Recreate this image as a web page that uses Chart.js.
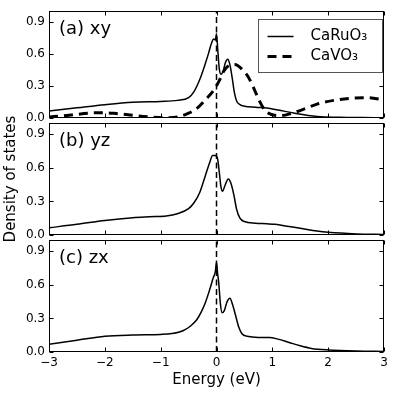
<!DOCTYPE html>
<html>
<head>
<meta charset="utf-8">
<script src="https://cdn.jsdelivr.net/npm/chart.js@4.4.1/dist/chart.umd.min.js"></script>
<style>
  body { margin:0; background:#fff; }
  #wrap { position:relative; width:394px; height:395px; }
  #wrap canvas { position:absolute; left:0; top:0; }
</style>
</head>
<body>
<div id="wrap">
  <canvas id="chartA" width="394" height="395"></canvas>
  <canvas id="chartB" width="394" height="395"></canvas>
  <canvas id="chartC" width="394" height="395"></canvas>
</div>
<script>
const xTicks = [-3, -2, -1, 0, 1, 2, 3];
const yTicks = [0.0, 0.3, 0.6, 0.9];
const panelLabels = ['(a) xy', '(b) yz', '(c) zx'];
const seriesNames = ['CaRuO₃', 'CaVO₃'];

// (a) xy
const ruXyE = [-3, -2.5, -2, -1.5, -1, -0.7, -0.5, -0.4, -0.3, -0.2, -0.14, -0.09, -0.05, -0.02, 0, 0.025, 0.05, 0.08, 0.12, 0.16, 0.2, 0.24, 0.28, 0.32, 0.36, 0.42, 0.5, 0.7, 0.9, 1.1, 1.4, 1.8, 2.2, 2.6, 3];
const ruXyV = [0.065, 0.095, 0.125, 0.148, 0.155, 0.165, 0.19, 0.25, 0.36, 0.51, 0.61, 0.70, 0.74, 0.73, 0.79, 0.62, 0.46, 0.41, 0.44, 0.52, 0.55, 0.50, 0.38, 0.24, 0.16, 0.125, 0.11, 0.10, 0.093, 0.075, 0.045, 0.015, 0.007, 0.004, 0.003];
const vXyE = [-3, -2.6, -2.3, -2.05, -1.8, -1.5, -1.2, -0.9, -0.7, -0.5, -0.35, -0.2, -0.05, 0.05, 0.12, 0.22, 0.33, 0.45, 0.55, 0.65, 0.75, 0.87, 0.97, 1.15, 1.35, 1.6, 1.8, 2.1, 2.4, 2.7, 3];
const vXyV = [0.01, 0.028, 0.045, 0.05, 0.042, 0.025, 0.01, 0.003, 0.01, 0.045, 0.09, 0.17, 0.26, 0.35, 0.43, 0.49, 0.50, 0.46, 0.40, 0.30, 0.18, 0.07, 0.035, 0.022, 0.045, 0.09, 0.13, 0.165, 0.185, 0.19, 0.17];

// (b) yz
const ruYzE = [-3, -2.5, -2, -1.5, -1.2, -0.9, -0.7, -0.5, -0.4, -0.3, -0.2, -0.12, -0.07, -0.02, 0.02, 0.05, 0.08, 0.11, 0.15, 0.21, 0.26, 0.31, 0.36, 0.42, 0.5, 0.7, 0.9, 1.05, 1.3, 1.5, 1.8, 2.0, 2.5, 3];
const ruYzV = [0.065, 0.095, 0.13, 0.155, 0.163, 0.17, 0.19, 0.235, 0.29, 0.38, 0.53, 0.65, 0.71, 0.71, 0.68, 0.56, 0.43, 0.39, 0.44, 0.50, 0.46, 0.36, 0.23, 0.15, 0.12, 0.105, 0.10, 0.095, 0.075, 0.06, 0.035, 0.024, 0.01, 0.005];

// (c) zx
const ruZxE = [-3, -2.5, -2, -1.5, -1, -0.8, -0.6, -0.47, -0.35, -0.27, -0.2, -0.12, -0.06, -0.02, 0, 0.02, 0.04, 0.07, 0.1, 0.14, 0.19, 0.24, 0.29, 0.34, 0.4, 0.46, 0.55, 0.75, 0.95, 1.1, 1.3, 1.5, 1.7, 2.0, 2.5, 3];
const ruZxV = [0.07, 0.105, 0.14, 0.152, 0.157, 0.165, 0.19, 0.23, 0.29, 0.36, 0.44, 0.56, 0.66, 0.72, 0.80, 0.70, 0.62, 0.43, 0.35, 0.37, 0.45, 0.48, 0.42, 0.33, 0.22, 0.16, 0.14, 0.13, 0.13, 0.115, 0.085, 0.055, 0.032, 0.018, 0.008, 0.005];

const vLineE = [0, 0];
const vLineV = [0, 1];

function pts(e, v) {
   const out = [];
   for (let i = 0; i < e.length; i++) {
      out.push({x: e[i], y: v[i]});
   }
   return out;
}

Chart.defaults.font.family = '"DejaVu Sans", sans-serif';
Chart.defaults.color = '#000';

// box round the plot + inward ticks on all four sides
const frame = {
   id: 'frame',
   afterDatasetsDraw(chart) {
      const ctx = chart.ctx;
      const a = chart.chartArea;
      const xs = chart.scales.x, ys = chart.scales.y;
      const L = Math.round(a.left) + 0.5, R = Math.round(a.right) - 0.5;
      const T = Math.round(a.top) + 0.5, B = Math.round(a.bottom) - 0.5;
      ctx.save();
      ctx.strokeStyle = '#000';
      ctx.lineWidth = 1;
      ctx.setLineDash([]);
      ctx.beginPath();
      for (const v of xTicks) {
         const px = Math.round(xs.getPixelForValue(v)) + 0.5;
         ctx.moveTo(px, B); ctx.lineTo(px, B - 4);
         ctx.moveTo(px, T); ctx.lineTo(px, T + 4);
      }
      for (const v of yTicks) {
         const py = Math.round(ys.getPixelForValue(v)) + 0.5;
         ctx.moveTo(L, py); ctx.lineTo(L + 4, py);
         ctx.moveTo(R, py); ctx.lineTo(R - 4, py);
      }
      ctx.stroke();
      ctx.strokeRect(L, T, R - L, B - T);
      // panel label
      const lab = chart.options.plugins.frame.label;
      ctx.fillStyle = '#000';
      ctx.font = '18px "DejaVu Sans"';
      ctx.textBaseline = 'middle';
      ctx.textAlign = 'left';
      ctx.fillText(lab, a.left + 10, a.top + 18);
      ctx.restore();
   }
};

// legend box for panel (a)
const boxLegend = {
   id: 'boxLegend',
   afterDraw(chart) {
      if (!chart.options.plugins.boxLegend.show) return;
      const ctx = chart.ctx;
      const a = chart.chartArea;
      const lx = Math.round(a.right) - 125.5, ly = Math.round(a.top) + 8.5, lw = 124, lh = 53;
      ctx.save();
      ctx.fillStyle = '#fff';
      ctx.fillRect(lx, ly, lw, lh);
      ctx.strokeStyle = '#555';
      ctx.lineWidth = 1;
      ctx.strokeRect(lx, ly, lw, lh);
      const sets = chart.data.datasets.filter(d => d.label);
      for (let i = 0; i < sets.length; i++) {
         const d = sets[i];
         const y = ly + 17 + i * 20;
         ctx.strokeStyle = d.borderColor;
         ctx.lineWidth = d.borderWidth;
         ctx.setLineDash(d.borderDash || []);
         ctx.beginPath();
         ctx.moveTo(lx + 9, y);
         ctx.lineTo(lx + 35, y);
         ctx.stroke();
         ctx.setLineDash([]);
         ctx.fillStyle = '#000';
         ctx.font = '15px "DejaVu Sans"';
         ctx.textBaseline = 'middle';
         ctx.fillText(d.label, lx + 52, y);
      }
      ctx.restore();
   }
};

function solid(label, data) {
   return {label: label, data: data, borderColor: '#000', borderWidth: 1.5, pointRadius: 0, cubicInterpolationMode: 'monotone', fill: false};
}
function dashed(label, data) {
   return {label: label, data: data, borderColor: '#000', borderWidth: 3, borderDash: [9, 6], pointRadius: 0, cubicInterpolationMode: 'monotone', fill: false};
}
function zeroLine() {
   return {label: '', data: pts(vLineE, vLineV), borderColor: '#000', borderWidth: 1.5, borderDash: [6, 3.5], pointRadius: 0, fill: false};
}

function makePanel(id, label, datasets, padTop, padBottom, showX, yTitle, legend) {
   const ctx = document.getElementById(id).getContext('2d');
   return new Chart(ctx, {
      type: 'line',
      data: {datasets: datasets},
      plugins: [frame, boxLegend],
      options: {
         responsive: false,
         animation: false,
         events: [],
         layout: {padding: {top: padTop, bottom: padBottom, left: 0, right: 10}},
         plugins: {
            legend: {display: false},
            tooltip: {enabled: false},
            frame: {label: label},
            boxLegend: {show: legend}
         },
         scales: {
            x: {
               type: 'linear',
               display: showX,
               min: -3, max: 3,
               grid: {display: false, drawTicks: false},
               border: {display: false},
               afterFit(s) { s.height = showX ? 43 : 0; },
               afterBuildTicks(s) { s.ticks = xTicks.map(v => ({value: v})); },
               ticks: {
                  autoSkip: false, maxRotation: 0, padding: 4,
                  font: {size: 12},
                  callback: v => v < 0 ? '\u2212' + Math.abs(v) : String(v)
               },
               title: {display: showX, text: 'Energy (eV)', font: {size: 15}, padding: {top: 0, bottom: 6}}
            },
            y: {
               type: 'linear',
               min: 0, max: 1.0,
               grid: {display: false, drawTicks: false},
               border: {display: false},
               afterFit(s) { s.width = 49; },
               afterBuildTicks(s) { s.ticks = yTicks.map(v => ({value: v})); },
               ticks: {autoSkip: false, padding: 4, font: {size: 12}, callback: v => v.toFixed(1)},
               title: {display: yTitle, text: 'Density of states', font: {size: 15}, padding: {top: 2, bottom: 0}}
            }
         }
      }
   });
}

makePanel('chartA', panelLabels[0], [solid(seriesNames[0], pts(ruXyE, ruXyV)), dashed(seriesNames[1], pts(vXyE, vXyV)), zeroLine()], 6, 277, false, false, true);
makePanel('chartB', panelLabels[1], [solid(seriesNames[0], pts(ruYzE, ruYzV)), zeroLine()], 123, 160, false, true, false);
makePanel('chartC', panelLabels[2], [solid(seriesNames[0], pts(ruZxE, ruZxV)), zeroLine()], 240, 0, true, false, false);
</script>
</body>
</html>
